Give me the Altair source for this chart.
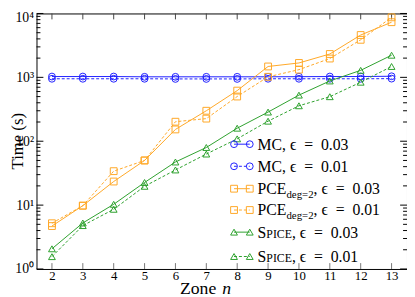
import altair as alt
import pandas as pd

# ---------------- data ----------------
zones = [2, 3, 4, 5, 6, 7, 8, 9, 10, 11, 12, 13]
mc_003 = [1030, 1030, 1030, 1020, 1020, 1020, 1020, 1020, 1025, 1030, 1030, 1040]
mc_001 = [950, 950, 950, 950, 945, 945, 945, 950, 950, 950, 950, 955]
pce_003 = [4.7, 9.8, 23.4, 50, 153, 300, 620, 1480, 1680, 2320, 4600, 7300]
pce_001 = [5.2, 9.8, 34, 50, 202, 226, 501, 1020, 1320, 1970, 3870, 8700]
spice_003 = [2.07, 5.25, 10.3, 22.6, 47.3, 79.8, 160, 286, 527, 878, 1288, 2220]
spice_001 = [1.56, 4.78, 8.6, 19.7, 35.5, 63, 109, 206, 359, 498, 839, 1480]

eps_labels = ["0.03", "0.01"]
ytick_values = [1, 10, 100, 1000, 10000]
ytick_labels = ["10⁰", "10¹", "10²", "10³", "10⁴"]
minor_ticks = [m * d for d in [1, 10, 100, 1000] for m in range(2, 10)]

# ---------------- style ----------------
FONT = "Liberation Serif"
BLUE = "#2020ff"
ORANGE = "#ffa726"
GREEN = "#2ca02c"
DASH = [3, 2]
W, H = 377, 260
MSIZE = 48

X = alt.X("zone:Q", scale=alt.Scale(domain=[1.5, 13.5], nice=False, zero=False),
          axis=alt.Axis(values=zones, ticks=False, domain=False, grid=False,
                        labelFont=FONT, labelFontSize=13, labelColor="black",
                        labelPadding=1, title=None))
Y = alt.Y("time:Q", scale=alt.Scale(type="log", domain=[1, 10000], nice=False),
          axis=alt.Axis(values=ytick_values, ticks=False, domain=False, grid=False,
                        labelFont=FONT, labelFontSize=14, labelColor="black",
                        labelPadding=3, title=None,
                        labelOffset={"condition": {"test": "datum.value == 10000", "value": 4},
                                     "value": 0},
                        labelExpr=" : ".join(
                            f"datum.value == {v} ? '{l}'" for v, l in zip(ytick_values[:-1], ytick_labels[:-1])
                        ) + f" : '{ytick_labels[-1]}'"))

series = [
    ("MC", eps_labels[0], mc_003, BLUE, None, "circle"),
    ("MC", eps_labels[1], mc_001, BLUE, DASH, "circle"),
    ("PCE", eps_labels[0], pce_003, ORANGE, None, "square"),
    ("PCE", eps_labels[1], pce_001, ORANGE, DASH, "square"),
    ("SPICE", eps_labels[0], spice_003, GREEN, None, "triangle-up"),
    ("SPICE", eps_labels[1], spice_001, GREEN, DASH, "triangle-up"),
]

layers = []

# ticks (inward)
xt = pd.DataFrame({"zone": zones})
layers.append(alt.Chart(xt).mark_rule(color="#777", strokeWidth=1).encode(
    x=X, y=alt.value(H), y2=alt.value(H - 6)))
layers.append(alt.Chart(xt).mark_rule(color="#444", strokeWidth=1).encode(
    x=X, y=alt.value(0), y2=alt.value(6)))
ytm = pd.DataFrame({"time": ytick_values})
ytn = pd.DataFrame({"time": minor_ticks})
layers.append(alt.Chart(ytm).mark_rule(color="black", strokeWidth=1).encode(
    y=Y, x=alt.value(0), x2=alt.value(7)))
layers.append(alt.Chart(ytm).mark_rule(color="black", strokeWidth=1).encode(
    y=Y, x=alt.value(W), x2=alt.value(W - 7)))
layers.append(alt.Chart(ytn).mark_rule(color="black", strokeWidth=1).encode(
    y=Y, x=alt.value(0), x2=alt.value(4)))
layers.append(alt.Chart(ytn).mark_rule(color="black", strokeWidth=1).encode(
    y=Y, x=alt.value(W), x2=alt.value(W - 4)))

# data series
for name, eps, vals, color, dash, shape in series:
    df = pd.DataFrame({"zone": zones, "time": vals})
    lk = dict(color=color, strokeWidth=1)
    if dash:
        lk["strokeDash"] = dash
    layers.append(alt.Chart(df).mark_line(**lk).encode(x=X, y=Y))
    layers.append(alt.Chart(df).mark_point(shape=shape, filled=False, color=color,
                                           size=MSIZE, strokeWidth=1, opacity=1).encode(x=X, y=Y))

# ---------------- legend (manual, lower right) ----------------
CW = {"P": .556, "C": .667, "E": .611, "M": .889, "S": .556, "I": .333, ",": .25, " ": .25,
      "\u2002": .5, "=": .564, "0": .5, ".": .25, "3": .5, "1": .5, "d": .5, "e": .444,
      "g": .5, "2": .5, "ϵ": .44, "Z": .611, "o": .5, "n": .5}


def tw(s, fs):
    return sum(CW.get(ch, .5) for ch in s) * fs


row_y = [133, 155.5, 178.3, 200, 222.5, 247.3]
sx1, sx2, tx = 201, 217, 225
FS = 16
legend_df = pd.DataFrame({"zone": [0]})
for (name, eps, vals, color, dash, shape), ry in zip(series, row_y):
    lk = dict(color=color, strokeWidth=1)
    if dash:
        lk["strokeDash"] = dash
    layers.append(alt.Chart(legend_df).mark_rule(**lk).encode(
        x=alt.value(sx1), x2=alt.value(sx2), y=alt.value(ry)))
    for px in (sx1, sx2):
        layers.append(alt.Chart(legend_df).mark_point(shape=shape, filled=False, color=color,
                                                      size=MSIZE, strokeWidth=1, opacity=1).encode(
            x=alt.value(px), y=alt.value(ry)))
    base_y = ry + 5.5
    tail = f", ϵ\u2002=\u2002{eps}"
    if name == "MC":
        pieces = [("MC", FS, 0)]
    elif name == "PCE":
        pieces = [("PCE", FS, 0), ("deg=2", 11, 3.5)]
    else:
        pieces = [("S", FS, 0), ("PICE", 12, 0)]
    pieces.append((tail, FS, 0))
    cx = tx
    for txt, fs, dy in pieces:
        layers.append(alt.Chart(legend_df).mark_text(
            text=txt, font=FONT, fontSize=fs, color="black", align="left",
            baseline="alphabetic").encode(x=alt.value(cx), y=alt.value(base_y + dy)))
        cx += tw(txt, fs)

# ---------------- axis titles ----------------
layers.append(alt.Chart(legend_df).mark_text(
    text="Time (s)", font=FONT, fontSize=17, color="black", angle=270,
    align="center", baseline="middle").encode(x=alt.value(-19), y=alt.value(H / 2)))
zx = 146
layers.append(alt.Chart(legend_df).mark_text(
    text="Zone", font=FONT, fontSize=18, color="black", align="left",
    baseline="alphabetic").encode(x=alt.value(zx), y=alt.value(H + 25.5)))
layers.append(alt.Chart(legend_df).mark_text(
    text="n", font=FONT, fontSize=18, fontStyle="italic", color="black", align="left",
    baseline="alphabetic").encode(x=alt.value(zx + tw("Zone", 18) + 6), y=alt.value(H + 25.5)))

chart = alt.layer(*layers).properties(
    width=W, height=H,
    autosize=alt.AutoSizeParams(type="none"),
    padding={"left": 29, "top": 3, "right": 0, "bottom": 30},
).configure_view(stroke="black", strokeWidth=1)

chart.save("out.html", embed_options={"renderer": "svg", "actions": False})
